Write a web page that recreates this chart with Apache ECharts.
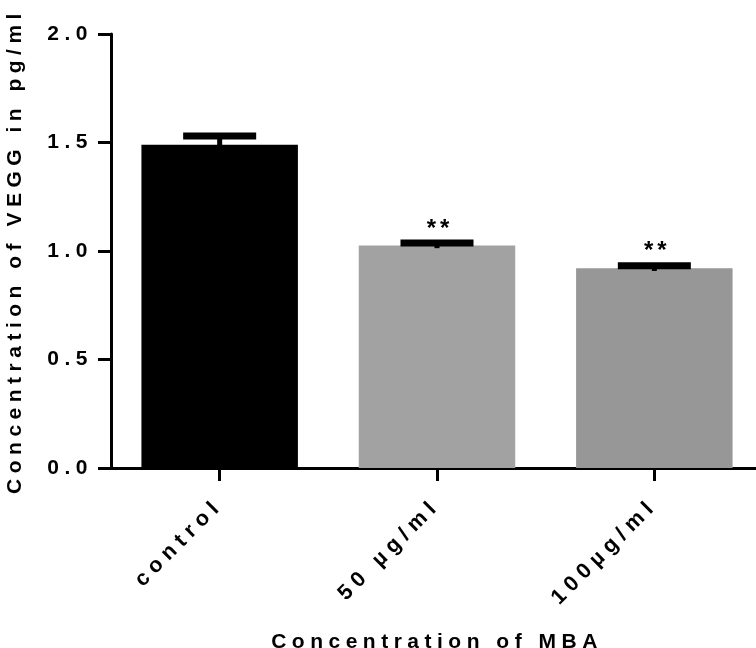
<!DOCTYPE html>
<html>
<head>
<meta charset="utf-8">
<script src="https://cdn.jsdelivr.net/npm/echarts@6/dist/echarts.min.js"></script>
<style>html,body{margin:0;padding:0;background:#fff;}#chart{width:756px;height:648px;}</style>
</head>
<body>
<div id="chart"></div>
<script>
var categories = ['control', '50 µg/ml', '100µg/ml'];
var means = [1.49, 1.025, 0.92];
var errors = [0.04, 0.012, 0.012];
var significance = ['', '**', '**'];
var barColors = ['#000000', '#a2a2a2', '#979797'];
var yTicks = [0, 0.5, 1.0, 1.5, 2.0];

// The reference uses letter-spaced text; emulate with canvas letterSpacing keyed by font size.
var SPACING = {'21': 5.5, '21.5': 6, '24': 4};
(function () {
  var P = CanvasRenderingContext2D.prototype;
  function sp(font) {
    var m = /(\d+(?:\.\d+)?)px/.exec(font || '');
    var s = m ? SPACING[m[1]] : 0;
    return (s || 0) + 'px';
  }
  var ft = P.fillText, st = P.strokeText, mt = P.measureText;
  P.fillText = function () { try { this.letterSpacing = sp(this.font); } catch (e) {} return ft.apply(this, arguments); };
  P.strokeText = function () { try { this.letterSpacing = sp(this.font); } catch (e) {} return st.apply(this, arguments); };
  P.measureText = function () { try { this.letterSpacing = sp(this.font); } catch (e) {} return mt.apply(this, arguments); };
})();

var FONT = '"Liberation Sans", Arial, sans-serif';
var chart = echarts.init(document.getElementById('chart'), null, {renderer: 'canvas'});

var errData = categories.map(function (c, i) { return [i, means[i], errors[i]]; });

chart.setOption({
  animation: false,
  backgroundColor: '#fff',
  grid: {left: 111, top: 34, width: 652, height: 434, containLabel: false, outerBoundsMode: 'none'},
  xAxis: {
    type: 'category',
    data: categories,
    name: 'Concentration of MBA',
    nameLocation: 'middle',
    nameGap: 161,
    nameTextStyle: {fontFamily: FONT, fontWeight: 'bold', fontSize: 21, color: '#000'},
    axisLine: {show: true, lineStyle: {color: '#000', width: 3}},
    axisTick: {show: true, alignWithLabel: true, length: 13, lineStyle: {color: '#000', width: 3}},
    axisLabel: {rotate: 45, interval: 0, margin: 34, fontFamily: FONT, fontWeight: 'bold', fontSize: 21.5, color: '#000'},
    splitLine: {show: false}
  },
  yAxis: {
    type: 'value',
    min: yTicks[0],
    max: yTicks[yTicks.length - 1],
    interval: 0.5,
    name: 'Concentration of VEGG in pg/ml',
    nameLocation: 'middle',
    nameGap: 83,
    nameTextStyle: {fontFamily: FONT, fontWeight: 'bold', fontSize: 21, color: '#000'},
    axisLine: {show: true, lineStyle: {color: '#000', width: 3}},
    axisTick: {show: true, length: 13, lineStyle: {color: '#000', width: 3}},
    axisLabel: {margin: 18, fontFamily: FONT, fontWeight: 'bold', fontSize: 21, color: '#000',
      formatter: function (v) { return v.toFixed(1); }},
    splitLine: {show: false}
  },
  series: [
    {
      type: 'bar',
      barWidth: '72%',
      data: means.map(function (m, i) { return {value: m, itemStyle: {color: barColors[i]}}; }),
      z: 2
    },
    {
      type: 'custom',
      data: errData,
      z: 5,
      renderItem: function (params, api) {
        var idx = api.value(0), m = api.value(1), e = api.value(2);
        var top = api.coord([idx, m + e]);
        var bot = api.coord([idx, m - e]);
        var bw = api.size([1, 0])[0];
        var half = bw * 0.168;
        var children = [
          {type: 'line', shape: {x1: top[0], y1: top[1], x2: bot[0], y2: bot[1]},
            style: {stroke: '#000', lineWidth: 5}},
          {type: 'line', shape: {x1: top[0] - half, y1: top[1], x2: top[0] + half, y2: top[1]},
            style: {stroke: '#000', lineWidth: 7}}
        ];
        var s = significance[params.dataIndex];
        if (s) {
          children.push({type: 'text', x: top[0] + 3, y: top[1],
            style: {text: s, fill: '#000', font: 'bold 24px ' + FONT, align: 'center', verticalAlign: 'bottom'}});
        }
        return {type: 'group', children: children};
      }
    }
  ]
});
</script>
</body>
</html>
